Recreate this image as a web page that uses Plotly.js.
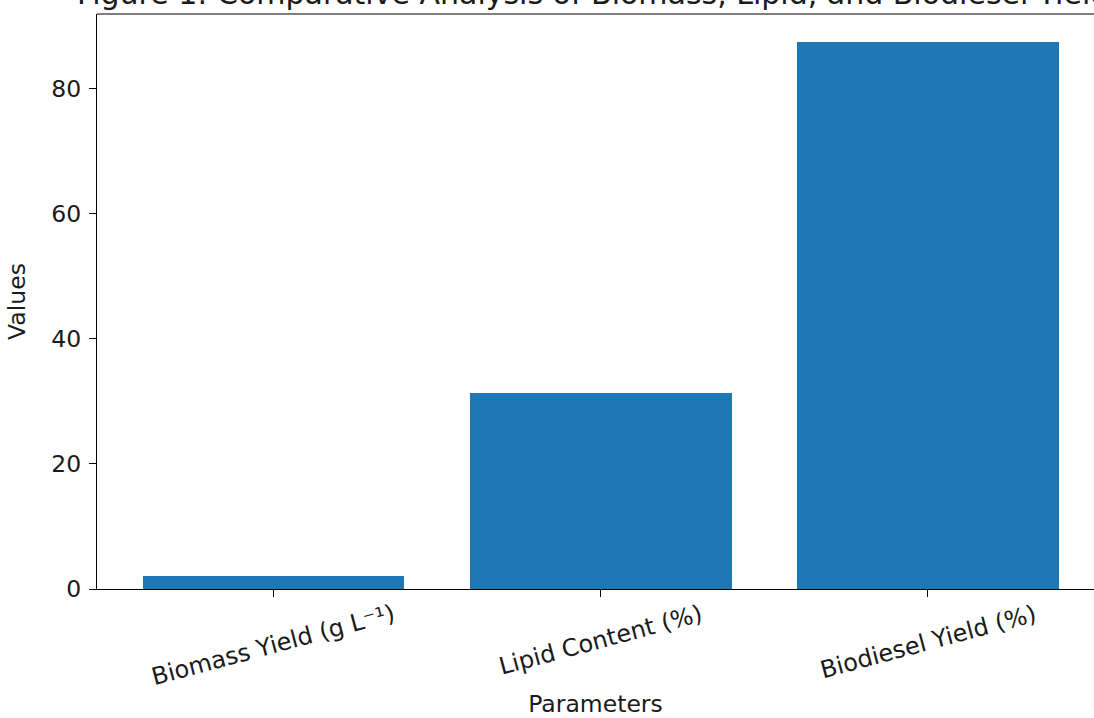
<!DOCTYPE html>
<html>
<head>
<meta charset="utf-8">
<script src="https://cdn.plot.ly/plotly-3.0.1.min.js"></script>
<style>
html, body { margin: 0; padding: 0; overflow: hidden; background: #fff; }
#chart { width: 1094px; height: 718px; }
</style>
</head>
<body>
<div id="chart"></div>
<script>
const categories = ["Biomass Yield (g L\u207B\u00B9)", "Lipid Content (%)", "Biodiesel Yield (%)"];
const values = [2.0, 31.4, 87.5];
const yTicks = [0, 20, 40, 60, 80];
const titleText = "Figure 1: Comparative Analysis of Biomass, Lipid, and Biodiesel Yields";
const xTitle = "Parameters";
const yTitle = "Values";

const FONT = "DejaVu Sans, sans-serif";
const TXT = "#1a1a1a";

const trace = {
  type: "bar",
  x: categories,
  y: values,
  width: 0.8,
  marker: { color: "#1f77b4", line: { width: 0 } },
  hoverinfo: "x+y"
};

const labelAnnotations = categories.map(c => ({
  x: c, xref: "x",
  y: 0, yref: "paper",
  yanchor: "top", xanchor: "center",
  yshift: -8,
  text: c,
  textangle: -15,
  showarrow: false,
  font: { family: FONT, size: 24, color: TXT }
}));

const layout = {
  width: 1094, height: 718,
  paper_bgcolor: "#fff", plot_bgcolor: "#fff",
  margin: { l: 97, r: 0, t: 14, b: 129, pad: 0 },
  showlegend: false,
  bargap: 0,
  title: {
    text: titleText,
    font: { family: FONT, size: 30, color: TXT },
    xref: "container", x: 601 / 1094, xanchor: "center",
    yref: "container", y: 1 - 4 / 718, yanchor: "bottom"
  },
  xaxis: {
    type: "category",
    range: [-0.54, 2.508],
    showgrid: false, zeroline: false,
    showline: true, linecolor: "#000", linewidth: 1.2,
    ticks: "outside", ticklen: 7, tickwidth: 1.2, tickcolor: "#000",
    showticklabels: false,
    title: { text: xTitle, font: { family: FONT, size: 23.5, color: TXT }, standoff: 105 },
    automargin: false
  },
  yaxis: {
    range: [0, 91.9],
    tickvals: yTicks,
    ticktext: yTicks.map(String),
    showgrid: false, zeroline: false,
    showline: true, linecolor: "#000", linewidth: 1.2,
    ticks: "outside", ticklen: 7, tickwidth: 1.2, tickcolor: "#000",
    ticklabelstandoff: 3,
    tickfont: { family: FONT, size: 23.5, color: TXT },
    title: { text: yTitle, font: { family: FONT, size: 23.5, color: TXT }, standoff: 19 },
    automargin: false
  },
  shapes: [{
    type: "line", xref: "paper", yref: "paper",
    x0: 0, x1: 1, y0: 1, y1: 1,
    line: { color: "#000", width: 1.2 }
  }],
  annotations: labelAnnotations
};

Plotly.newPlot("chart", [trace], layout, { displayModeBar: false, responsive: false });
</script>
</body>
</html>
